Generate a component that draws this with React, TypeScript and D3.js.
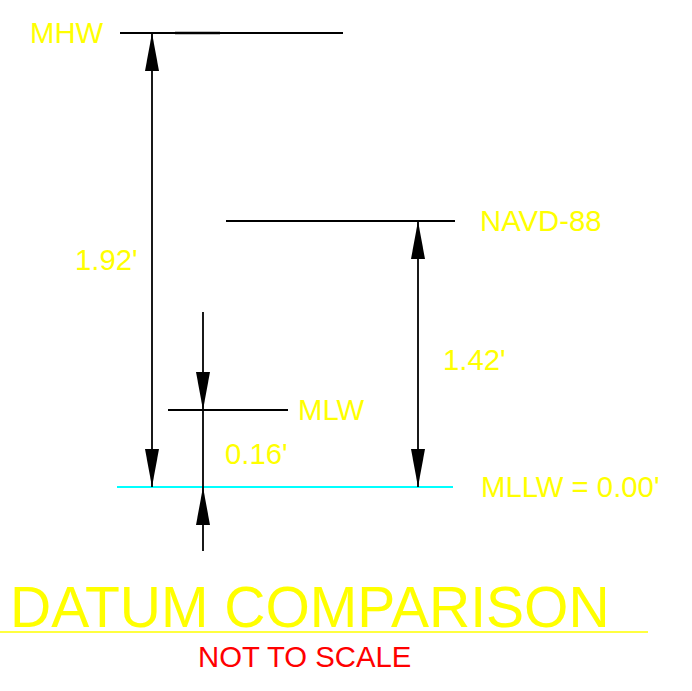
import React from 'react';
import * as d3 from 'd3';

// datum elevations (ft, MLLW)
const datumNames = ['MLLW', 'MLW', 'NAVD-88', 'MHW'];
const datumValues = [0.0, 0.16, 1.42, 1.92];
const datumLabels = ['MLLW = 0.00\'', 'MLW', 'NAVD-88', 'MHW'];

// dimensions between datums
const dimFrom = ['MLLW', 'MLLW', 'MLLW'];
const dimTo = ['MHW', 'NAVD-88', 'MLW'];
const dimLabels = ['1.92\'', '1.42\'', '0.16\''];

const W = 692;
const H = 691;
const FONT = '"Liberation Sans", Arial, sans-serif';
const FS = 29.3;

// not to scale -> piecewise scale
const y = d3.scaleLinear().domain(datumValues).range([487, 410, 221, 33]);

const lineLayout: any = {
  MHW: { x1: 120, x2: 343, labelX: 30, color: '#000', w: 1.8 },
  'NAVD-88': { x1: 226, x2: 455, labelX: 480, color: '#000', w: 1.8 },
  MLW: { x1: 168, x2: 288, labelX: 298, color: '#000', w: 1.8 },
  MLLW: { x1: 117, x2: 453, labelX: 481, color: '#00ffff', w: 2 },
};

const dimLayout = [
  { x: 152, textX: 75, dy: 10, inside: true },
  { x: 418, textX: 443, dy: 16, inside: true },
  { x: 203, textX: 225, dy: 15, inside: false },
];

const HEAD_L = 38;
const HEAD_W = 7;

function head(x: number, tipY: number, dir: number) {
  // dir = -1 points up, 1 points down
  const baseY = tipY - dir * HEAD_L;
  return `M${x},${tipY}L${x - HEAD_W},${baseY}L${x + HEAD_W},${baseY}Z`;
}

export default function App() {
  const value = (name: string) => datumValues[datumNames.indexOf(name)];

  return (
    <div style={{ position: 'absolute', left: 0, top: 0 }}>
      <svg width={W} height={H} style={{ display: 'block', background: '#fff' }}>
        {datumNames.map((n, i) => {
          const l = lineLayout[n];
          const yy = y(datumValues[i]);
          return (
            <g key={n}>
              <line x1={l.x1} x2={l.x2} y1={yy} y2={yy} stroke={l.color} strokeWidth={l.w} />
              <text x={l.labelX} y={yy + 10} fill="#ffff00" fontFamily={FONT} fontSize={FS}>
                {datumLabels[i]}
              </text>
            </g>
          );
        })}
        {/* slight overlap segment on MHW line */}
        <line x1={175} x2={220} y1={y(value('MHW'))} y2={y(value('MHW'))} stroke="#000" strokeWidth={2.4} />

        {dimLabels.map((lab, i) => {
          const d = dimLayout[i];
          const yTop = y(value(dimTo[i]));
          const yBot = y(value(dimFrom[i]));
          const mid = (yTop + yBot) / 2;
          return (
            <g key={lab}>
              {d.inside ? (
                <>
                  <line x1={d.x} x2={d.x} y1={yTop} y2={yBot} stroke="#000" strokeWidth={1.8} />
                  <path d={head(d.x, yTop, -1)} fill="#000" />
                  <path d={head(d.x, yBot, 1)} fill="#000" />
                </>
              ) : (
                <>
                  <line x1={d.x} x2={d.x} y1={yTop - 98} y2={yBot + 64} stroke="#000" strokeWidth={1.8} />
                  <path d={head(d.x, yTop, 1)} fill="#000" />
                  <path d={head(d.x, yBot, -1)} fill="#000" />
                </>
              )}
              <text x={d.textX} y={mid + d.dy} fill="#ffff00" fontFamily={FONT} fontSize={FS}>
                {lab}
              </text>
            </g>
          );
        })}

        <text x={10} y={627} fill="#ffff00" fontFamily={FONT} fontSize={57}>
          DATUM COMPARISON
        </text>
        <line x1={0} x2={648} y1={632} y2={632} stroke="#ffff00" strokeWidth={1.5} />
        <text x={198} y={667} fill="#ff0000" fontFamily={FONT} fontSize={FS}>
          NOT TO SCALE
        </text>
      </svg>
    </div>
  );
}
